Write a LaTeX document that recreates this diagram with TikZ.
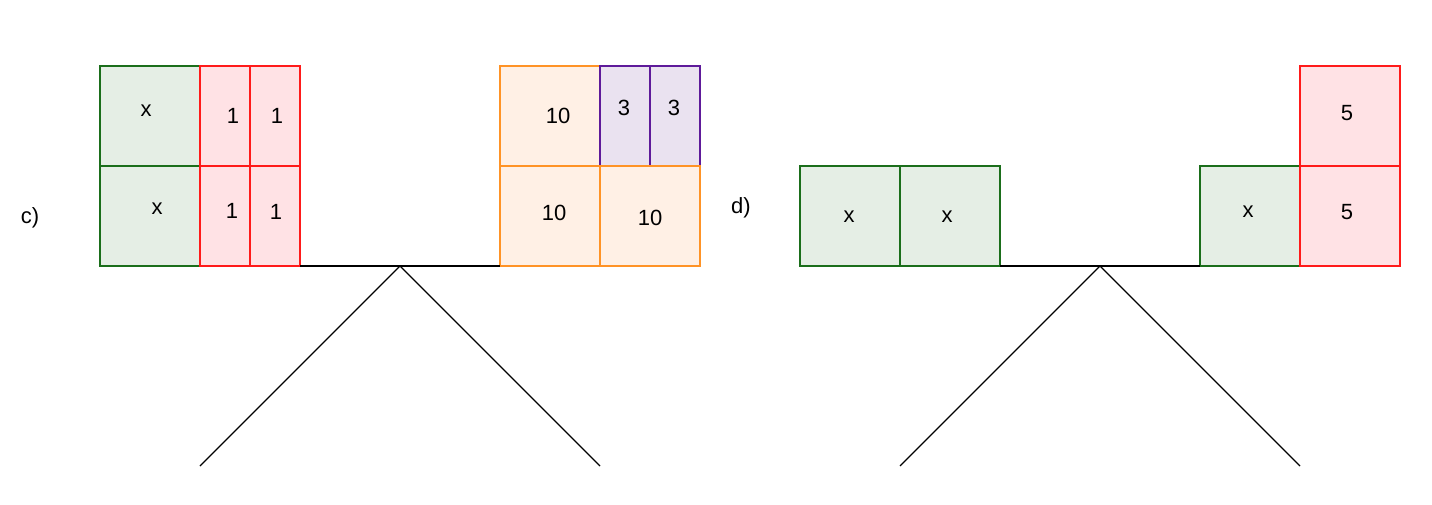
\documentclass[tikz,border=0pt]{standalone}
\usepackage{fontspec}
\setmainfont{Liberation Sans}
\definecolor{gstroke}{HTML}{1B6E1B}
\definecolor{gfill}{HTML}{E5EEE5}
\definecolor{rstroke}{HTML}{FF1A1A}
\definecolor{rfill}{HTML}{FFE2E5}
\definecolor{ostroke}{HTML}{FF9326}
\definecolor{ofill}{HTML}{FFF0E5}
\definecolor{pstroke}{HTML}{5E1A9A}
\definecolor{pfill}{HTML}{EAE2F0}
\begin{document}
\begin{tikzpicture}[x=1pt,y=-1pt,
  box/.style={rectangle,inner sep=0pt,outer sep=0pt,line width=1.5pt},
  gbox/.style={box,draw=gstroke,fill=gfill,minimum width=100pt,minimum height=100pt},
  rbox/.style={box,draw=rstroke,fill=rfill,minimum width=50pt,minimum height=100pt},
  rsq/.style={box,draw=rstroke,fill=rfill,minimum width=100pt,minimum height=100pt},
  obox/.style={box,draw=ostroke,fill=ofill,minimum width=100pt,minimum height=100pt},
  pbox/.style={box,draw=pstroke,fill=pfill,minimum width=50pt,minimum height=100pt},
  lbl/.style={inner sep=0pt,font=\fontsize{22}{26}\selectfont},
  beam/.style={draw=black,line width=1.3pt}]
\useasboundingbox (0,0) rectangle (1432,504);
% ---- c) ----
\coordinate (capex) at (400,266);
\coordinate (cl) at (200,466);
\coordinate (cr) at (600,466);
\draw[beam] (cl) -- (capex) -- (cr);
\node[gbox] (g1) at (150,116) {};
\node[gbox] (g2) at (150,216) {};
\node[rbox] (r1) at (225,116) {};
\node[rbox] (r2) at (275,116) {};
\node[rbox] (r3) at (225,216) {};
\node[rbox] (r4) at (275,216) {};
\node[obox] (o1) at (550,116) {};
\node[pbox] (p1) at (625,116) {};
\node[pbox] (p2) at (675,116) {};
\node[obox] (o2) at (550,216) {};
\node[obox] (o3) at (650,216) {};
\draw[beam] (r4.south east) -- (o2.south west);
\node[lbl] (tg1) at (146,111) {x};
\node[lbl] (tg2) at (157,209) {x};
\node[lbl] (tr1) at (233,116) {1};
\node[lbl] (tr2) at (277,116) {1};
\node[lbl] (tr3) at (232,211) {1};
\node[lbl] (tr4) at (276,212) {1};
\node[lbl] (to1) at (558,116) {10};
\node[lbl] (tp1) at (624,108) {3};
\node[lbl] (tp2) at (674,108) {3};
\node[lbl] (to2) at (554,213) {10};
\node[lbl] (to3) at (650,218) {10};
\node[lbl] (tc) at (30,218) {c)};
% ---- d) ----
\coordinate (dapex) at (1100,266);
\coordinate (dl) at (900,466);
\coordinate (dr) at (1300,466);
\draw[beam] (dl) -- (dapex) -- (dr);
\node[gbox] (g3) at (850,216) {};
\node[gbox] (g4) at (950,216) {};
\node[gbox] (g5) at (1250,216) {};
\node[rsq] (r5) at (1350,116) {};
\node[rsq] (r6) at (1350,216) {};
\draw[beam] (g4.south east) -- (g5.south west);
\node[lbl] (tg3) at (849,217) {x};
\node[lbl] (tg4) at (947,217) {x};
\node[lbl] (tg5) at (1248,212) {x};
\node[lbl] (tr5) at (1347,113) {5};
\node[lbl] (tr6) at (1347,212) {5};
\node[lbl] (td) at (741,208) {d)};
\end{tikzpicture}
\end{document}
